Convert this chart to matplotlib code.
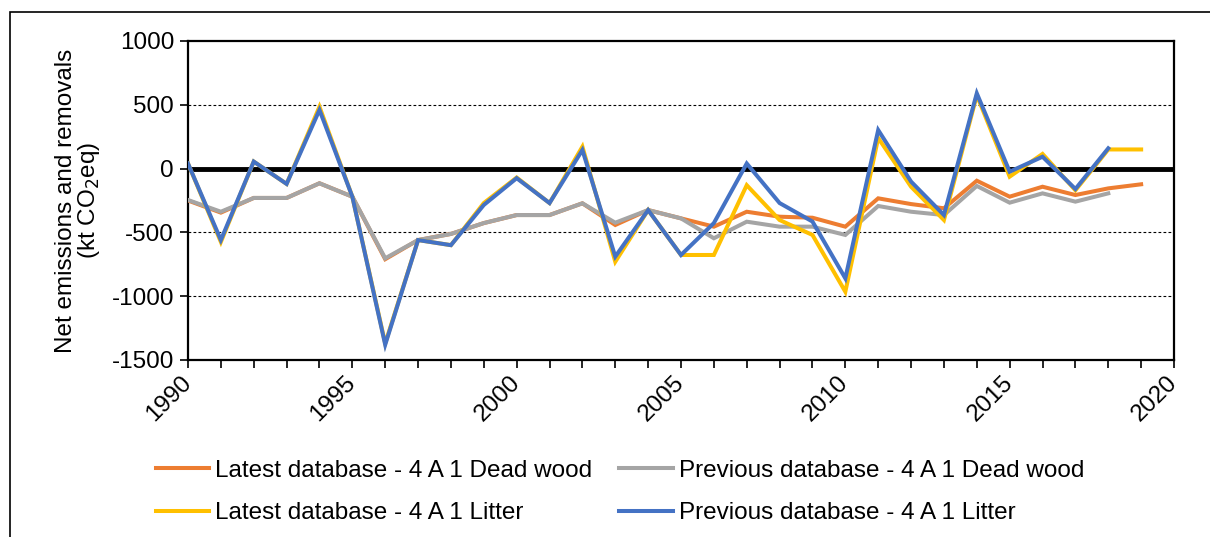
import matplotlib.pyplot as plt
import matplotlib.patches as mpatches
import numpy as np

plt.rcParams['font.family'] = ['Liberation Sans', 'DejaVu Sans']
plt.rcParams['axes.unicode_minus'] = False

# Data (kt CO2 eq)
years = list(range(1990, 2020))
latest_deadwood = [-250, -345, -230, -230, -115, -220, -710, -560, -512, -427,
                   -364, -364, -272, -442, -325, -390, -455, -338, -377, -385,
                   -455, -233, -278, -311, -95, -220, -142, -207, -155, -123]
previous_deadwood = [-246, -338, -230, -230, -115, -220, -703, -560, -512, -427,
                     -364, -364, -272, -424, -325, -390, -546, -416, -455, -455,
                     -520, -293, -338, -364, -136, -267, -194, -259, -194]
latest_litter = [40, -575, 55, -120, 485, -220, -1370, -560, -600, -270,
                 -70, -270, 172, -730, -325, -677, -677, -130, -403, -520,
                 -965, 240, -142, -403, 575, -63, 115, -170, 150, 150]
previous_litter = [40, -560, 55, -120, 460, -220, -1380, -560, -600, -285,
                   -75, -270, 146, -690, -325, -677, -427, 40, -270, -415,
                   -860, 302, -102, -364, 590, -24, 93, -160, 159]

labels = ["Latest database - 4 A 1 Dead wood",
          "Previous database - 4 A 1 Dead wood",
          "Latest database - 4 A 1 Litter",
          "Previous database - 4 A 1 Litter"]
colors = ["#ED7D31", "#A5A5A5", "#FFC000", "#4472C4"]

fs = 17.5

fig = plt.figure(figsize=(12.1, 5.37), dpi=100)
ax = fig.add_axes([188 / 1210, 1 - 360 / 537, (1174 - 188) / 1210, (360 - 41) / 537])

series = [latest_deadwood, previous_deadwood, latest_litter, previous_litter]
lines = []
for vals, lab, col in zip(series, labels, colors):
    ln, = ax.plot(years[:len(vals)], vals, color=col, lw=2.9, label=lab,
                  solid_joinstyle='miter', zorder=3)
    lines.append(ln)

# thick zero line and dashed grid
ax.axhline(0, color='black', lw=3.5, zorder=2)
for g in [500, -500, -1000]:
    ax.axhline(g, color='black', lw=0.8, ls=(0, (2.5, 2)), zorder=1)

ax.set_xlim(1990, 2020)
ax.set_ylim(-1500, 1000)
ax.set_yticks(np.arange(-1500, 1001, 500))
ax.set_xticks(np.arange(1990, 2021, 5))
ax.set_xticks(np.arange(1990, 2021, 1), minor=True)
ax.tick_params(axis='both', which='both', direction='out', length=6, width=1.2,
               labelsize=fs, color='black')
ax.tick_params(axis='y', pad=4)
for t in ax.get_xticklabels():
    t.set_rotation(45)
    t.set_ha('right')
    t.set_va('center')
    t.set_rotation_mode('anchor')
ax.tick_params(axis='x', pad=8)
for s in ax.spines.values():
    s.set_linewidth(1.6)
    s.set_color('black')

ax.set_ylabel("Net emissions and removals\n(kt CO$_2$eq)", fontsize=fs,
              linespacing=0.95, labelpad=7)

# legend: row 1 dead wood, row 2 litter
order = [0, 2, 1, 3]
fig.legend([lines[i] for i in order], [labels[i] for i in order], ncol=2,
           loc='upper left', bbox_to_anchor=(146 / 1210, 1 - 450 / 537),
           frameon=False, fontsize=fs, handlelength=2.2, handletextpad=0.25,
           columnspacing=1.1, labelspacing=0.85, borderaxespad=0)

# outer frame (only left and top edges visible in the reference)
fig.patches.append(mpatches.Rectangle((10 / 1210, -0.2), 1.2, 1.2 - 12 / 537,
                                      transform=fig.transFigure, fill=False,
                                      lw=1.2, edgecolor='black'))

fig.savefig("out.png", dpi=100)
